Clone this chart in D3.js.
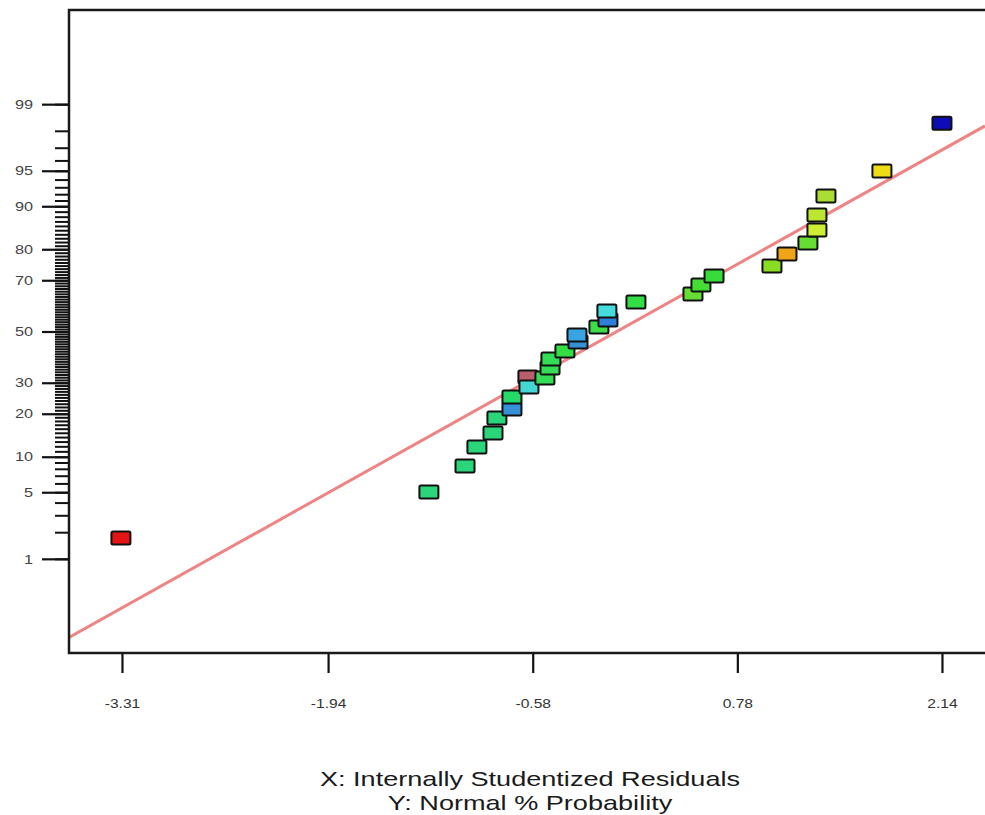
<!DOCTYPE html>
<html>
<head>
<meta charset="utf-8">
<script src="https://cdn.jsdelivr.net/npm/d3@7"></script>
<style>
  body { margin: 0; background: #fff; }
  svg { display: block; }
</style>
</head>
<body>
<div class="chart"></div>
<script>
// residuals (x) and normal % probability (y), one per run
const residuals = [-3.317, -1.270, -1.030, -0.951, -0.844, -0.818, -0.718, -0.718, -0.612, -0.605,
  -0.499, -0.465, -0.459, -0.366, -0.279, -0.286, -0.140, -0.080, -0.087, 0.106,
  0.485, 0.538, 0.625, 1.010, 1.110, 1.249, 1.309, 1.309, 1.369, 1.741, 2.140];
const probability = [1.73, 5.03, 8.44, 11.86, 14.96, 18.81, 21.39, 25.14, 32.07, 28.50,
  31.71, 35.46, 38.93, 42.09, 45.72, 48.56, 51.83, 54.68, 58.31, 61.87,
  64.95, 68.29, 71.49, 74.86, 78.61, 81.73, 85.04, 88.34, 91.71, 94.97, 98.35];
const pointColors = ["#e41414", "#2bd67a", "#2bd67a", "#2bd67a", "#2bd67a", "#2bd67a", "#3590d8", "#25db68", "#b85e6c", "#44d8d4",
  "#33dd58", "#33dd55", "#33dd55", "#33dd44", "#3590d8", "#3aa4e2", "#3ddd48", "#2f7fd8", "#44dcdc", "#33dd44",
  "#66dd33", "#44dd33", "#38dc38", "#88dd22", "#f0a418", "#66dd33", "#cdee33", "#bde633", "#aade33", "#eedd14", "#0c0cb8"];

// fitted normal line endpoints
const lineX = [-3.662, 2.426];
const lineP = [0.087, 98.23];

const xTicks = [-3.31, -1.94, -0.58, 0.78, 2.14];
const yMajorTicks = [1, 5, 10, 20, 30, 50, 70, 80, 90, 95, 99];
const yMinorTicks = d3.range(1, 100);

const xLabel = "X: Internally Studentized Residuals";
const yLabel = "Y: Normal % Probability";

const width = 985;
const height = 815;
const plotLeft = 69, plotTop = 10, plotBottom = 653;

// inverse normal cdf (Acklam)
function probit(p) {
  const a = [-39.69683028665376, 220.9460984245205, -275.9285104469687, 138.3577518672690, -30.66479806614716, 2.506628277459239];
  const b = [-54.47609879822406, 161.5858368580409, -155.6989798598866, 66.80131188771972, -13.28068155288572];
  const c = [-0.007784894002430293, -0.3223964580411365, -2.400758277161838, -2.549732539343734, 4.374664141464968, 2.938163982698783];
  const d = [0.007784695709041462, 0.3224671290700398, 2.445134137142996, 3.754408661907416];
  const pl = 0.02425;
  var q, r;
  if (p < pl) {
    q = Math.sqrt(-2 * Math.log(p));
    return (((((c[0]*q+c[1])*q+c[2])*q+c[3])*q+c[4])*q+c[5]) / ((((d[0]*q+d[1])*q+d[2])*q+d[3])*q+1);
  } else if (p <= 1 - pl) {
    q = p - 0.5; r = q * q;
    return (((((a[0]*r+a[1])*r+a[2])*r+a[3])*r+a[4])*r+a[5])*q / (((((b[0]*r+b[1])*r+b[2])*r+b[3])*r+b[4])*r+1);
  }
  q = Math.sqrt(-2 * Math.log(1 - p));
  return -(((((c[0]*q+c[1])*q+c[2])*q+c[3])*q+c[4])*q+c[5]) / ((((d[0]*q+d[1])*q+d[2])*q+d[3])*q+1);
}

const xScale = d3.scaleLinear().domain([-3.662, 2.426]).range([plotLeft, width]);
const zScale = d3.scaleLinear().domain([-3.29, 3.29]).range([plotBottom, plotTop]);
const yPos = (pct) => zScale(probit(pct / 100));

const svg = d3.select(".chart")
  .append("svg")
  .attr("width", width)
  .attr("height", height)
  .style("font-family", "Arial, 'Liberation Sans', sans-serif");

svg.append("clipPath").attr("id", "plot-clip")
  .append("rect")
  .attr("x", plotLeft).attr("y", plotTop)
  .attr("width", width - plotLeft).attr("height", plotBottom - plotTop);

// stretch text wider, like the picture
function widen(sel, f) {
  sel.each(function () {
    const w = this.getComputedTextLength();
    d3.select(this).attr("textLength", w * f).attr("lengthAdjust", "spacingAndGlyphs");
  });
}

// fitted line
svg.append("line")
  .attr("clip-path", "url(#plot-clip)")
  .attr("x1", xScale(lineX[0])).attr("y1", yPos(lineP[0]))
  .attr("x2", xScale(lineX[1])).attr("y2", yPos(lineP[1]))
  .attr("stroke", "#ee8484")
  .attr("stroke-width", 3);

// y axis: minor every 1%, major with labels
const yMinor = d3.axisLeft(zScale)
  .tickValues(yMinorTicks.map(p => probit(p / 100)))
  .tickSize(14)
  .tickFormat("");
svg.append("g")
  .attr("transform", "translate(" + plotLeft + ",0)")
  .call(yMinor)
  .call(g => g.select(".domain").remove())
  .selectAll("line").attr("stroke", "#111").attr("stroke-width", 2);

const yMajor = d3.axisLeft(zScale)
  .tickValues(yMajorTicks.map(p => probit(p / 100)))
  .tickSize(27)
  .tickPadding(9)
  .tickFormat((z, i) => yMajorTicks[i]);
const yg = svg.append("g")
  .attr("transform", "translate(" + plotLeft + ",0)")
  .call(yMajor)
  .call(g => g.select(".domain").remove());
yg.selectAll("line").attr("stroke", "#111").attr("stroke-width", 2.2);
yg.selectAll("text").style("font-size", "13px").attr("fill", "#444").call(widen, 1.25);

// x axis
const xAxis = d3.axisBottom(xScale)
  .tickValues(xTicks)
  .tickSize(20)
  .tickPadding(26)
  .tickFormat(d => d.toFixed(2));
const xg = svg.append("g")
  .attr("transform", "translate(0," + plotBottom + ")")
  .call(xAxis)
  .call(g => g.select(".domain").remove());
xg.selectAll("line").attr("stroke", "#111").attr("stroke-width", 2.2);
xg.selectAll("text").style("font-size", "13px").attr("fill", "#333").call(widen, 1.2);

// frame: top, left, bottom
svg.append("path")
  .attr("d", "M" + width + "," + plotTop + "H" + plotLeft + "V" + plotBottom + "H" + width)
  .attr("fill", "none")
  .attr("stroke", "#1a1a1a")
  .attr("stroke-width", 2.5);

// points
svg.append("g")
  .selectAll("rect")
  .data(residuals)
  .enter()
  .append("rect")
  .attr("x", d => xScale(d) - 9.5)
  .attr("y", (d, i) => yPos(probability[i]) - 6.5)
  .attr("width", 19)
  .attr("height", 13)
  .attr("rx", 1.5)
  .attr("fill", (d, i) => pointColors[i])
  .attr("stroke", "#111")
  .attr("stroke-width", 2);

// axis titles
const titles = svg.append("g")
  .attr("text-anchor", "middle")
  .attr("fill", "#1a1a1a")
  .style("font-size", "21px");
titles.append("text").attr("x", 530).attr("y", 786).text(xLabel).call(widen, 1.29);
titles.append("text").attr("x", 530).attr("y", 810).text(yLabel).call(widen, 1.29);
</script>
</body>
</html>
